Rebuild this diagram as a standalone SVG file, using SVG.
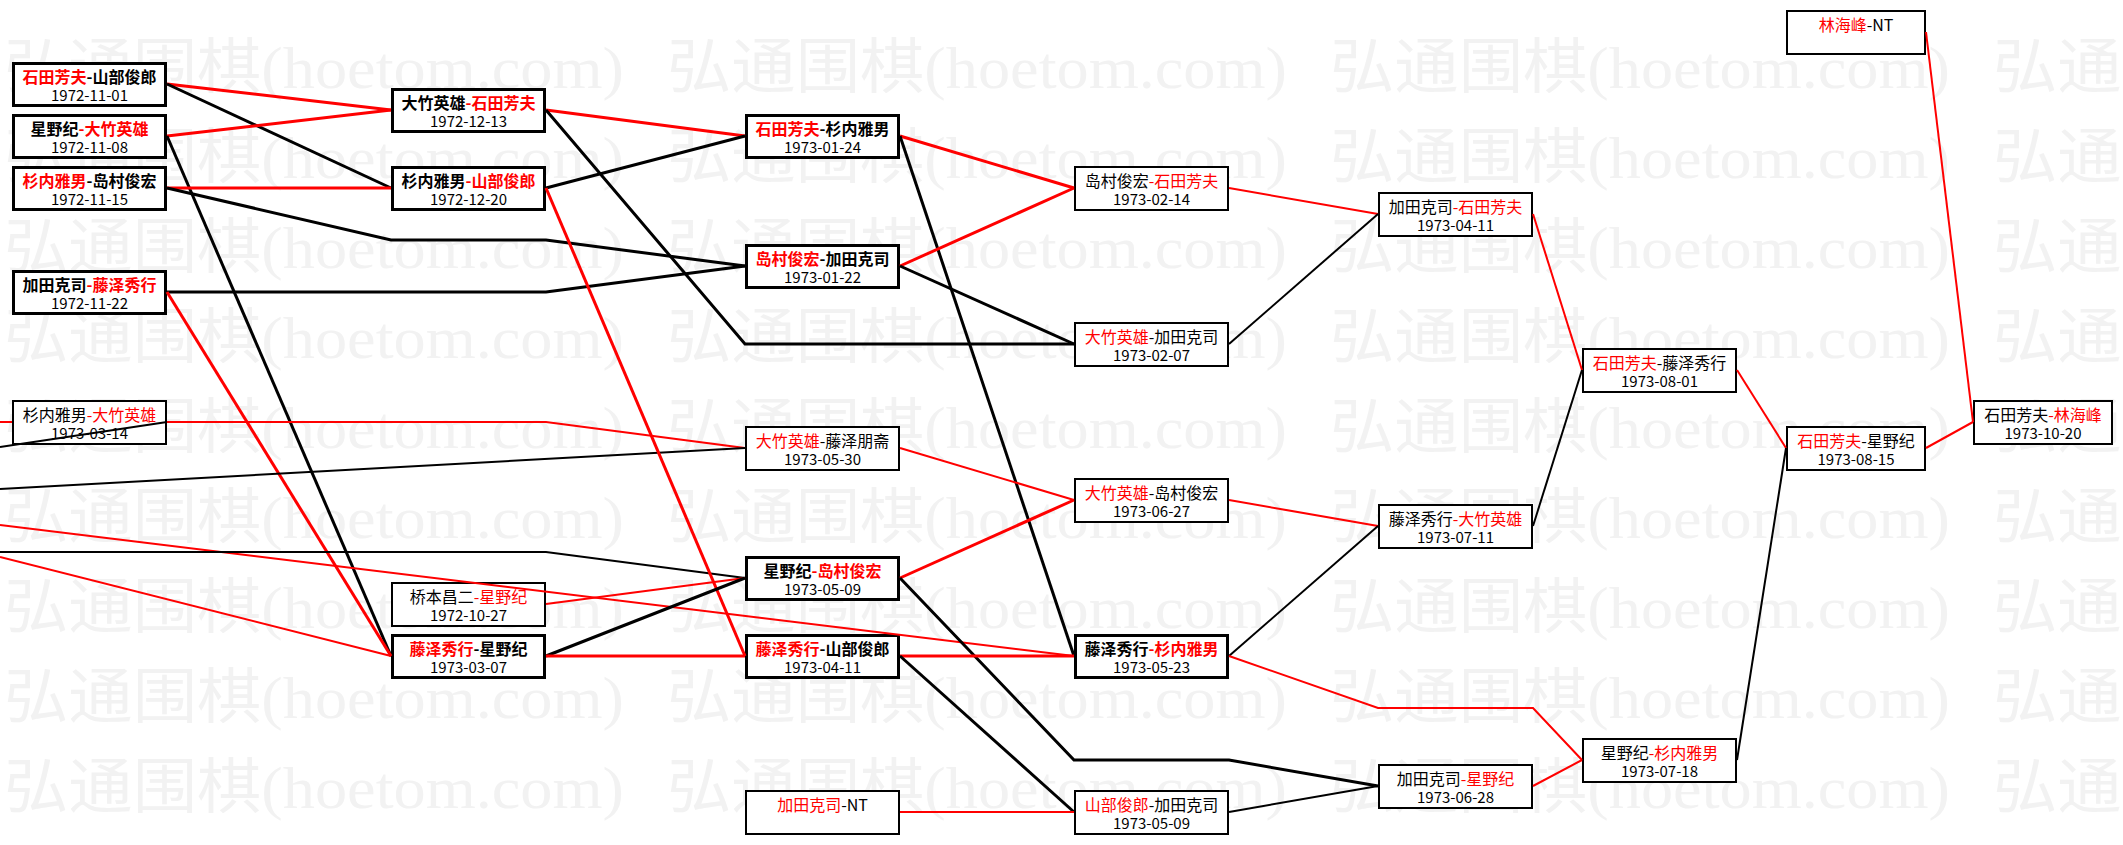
<svg xmlns="http://www.w3.org/2000/svg" width="2123" height="845" viewBox="0 0 2123 845">
<style>
.bg{fill:#ffffff}
.wm text{font-family:"Liberation Serif","Noto Sans CJK SC",serif;font-size:60px;fill:#f2f2f2}
.box{fill:#ffffff;stroke:#000000;stroke-width:2}
.b .box{stroke-width:3}
.nm{font-family:"Noto Sans CJK SC","Noto Sans CJK JP",sans-serif;font-size:16px;text-anchor:middle;fill:#000000}
.b .nm{font-weight:bold}
.dt{font-family:"Noto Sans CJK SC",sans-serif;font-size:15px;text-anchor:middle;fill:#000000}
.r{fill:#ff0000}
#links polyline{fill:none;stroke-width:2;stroke-linejoin:miter}
#links .k{stroke:#000000}
#links .rd{stroke:#ff0000}
#links .w3{stroke-width:3}
</style>
<rect class="bg" x="0" y="0" width="2123" height="845"/>
<g id="watermark" class="wm">
<text x="4" y="88" textLength="620" lengthAdjust="spacingAndGlyphs">弘通围棋(hoetom.com)</text><text x="667" y="88" textLength="620" lengthAdjust="spacingAndGlyphs">弘通围棋(hoetom.com)</text><text x="1330" y="88" textLength="620" lengthAdjust="spacingAndGlyphs">弘通围棋(hoetom.com)</text><text x="1993" y="88" textLength="620" lengthAdjust="spacingAndGlyphs">弘通围棋(hoetom.com)</text>
<text x="4" y="178" textLength="620" lengthAdjust="spacingAndGlyphs">弘通围棋(hoetom.com)</text><text x="667" y="178" textLength="620" lengthAdjust="spacingAndGlyphs">弘通围棋(hoetom.com)</text><text x="1330" y="178" textLength="620" lengthAdjust="spacingAndGlyphs">弘通围棋(hoetom.com)</text><text x="1993" y="178" textLength="620" lengthAdjust="spacingAndGlyphs">弘通围棋(hoetom.com)</text>
<text x="4" y="268" textLength="620" lengthAdjust="spacingAndGlyphs">弘通围棋(hoetom.com)</text><text x="667" y="268" textLength="620" lengthAdjust="spacingAndGlyphs">弘通围棋(hoetom.com)</text><text x="1330" y="268" textLength="620" lengthAdjust="spacingAndGlyphs">弘通围棋(hoetom.com)</text><text x="1993" y="268" textLength="620" lengthAdjust="spacingAndGlyphs">弘通围棋(hoetom.com)</text>
<text x="4" y="358" textLength="620" lengthAdjust="spacingAndGlyphs">弘通围棋(hoetom.com)</text><text x="667" y="358" textLength="620" lengthAdjust="spacingAndGlyphs">弘通围棋(hoetom.com)</text><text x="1330" y="358" textLength="620" lengthAdjust="spacingAndGlyphs">弘通围棋(hoetom.com)</text><text x="1993" y="358" textLength="620" lengthAdjust="spacingAndGlyphs">弘通围棋(hoetom.com)</text>
<text x="4" y="448" textLength="620" lengthAdjust="spacingAndGlyphs">弘通围棋(hoetom.com)</text><text x="667" y="448" textLength="620" lengthAdjust="spacingAndGlyphs">弘通围棋(hoetom.com)</text><text x="1330" y="448" textLength="620" lengthAdjust="spacingAndGlyphs">弘通围棋(hoetom.com)</text><text x="1993" y="448" textLength="620" lengthAdjust="spacingAndGlyphs">弘通围棋(hoetom.com)</text>
<text x="4" y="538" textLength="620" lengthAdjust="spacingAndGlyphs">弘通围棋(hoetom.com)</text><text x="667" y="538" textLength="620" lengthAdjust="spacingAndGlyphs">弘通围棋(hoetom.com)</text><text x="1330" y="538" textLength="620" lengthAdjust="spacingAndGlyphs">弘通围棋(hoetom.com)</text><text x="1993" y="538" textLength="620" lengthAdjust="spacingAndGlyphs">弘通围棋(hoetom.com)</text>
<text x="4" y="628" textLength="620" lengthAdjust="spacingAndGlyphs">弘通围棋(hoetom.com)</text><text x="667" y="628" textLength="620" lengthAdjust="spacingAndGlyphs">弘通围棋(hoetom.com)</text><text x="1330" y="628" textLength="620" lengthAdjust="spacingAndGlyphs">弘通围棋(hoetom.com)</text><text x="1993" y="628" textLength="620" lengthAdjust="spacingAndGlyphs">弘通围棋(hoetom.com)</text>
<text x="4" y="718" textLength="620" lengthAdjust="spacingAndGlyphs">弘通围棋(hoetom.com)</text><text x="667" y="718" textLength="620" lengthAdjust="spacingAndGlyphs">弘通围棋(hoetom.com)</text><text x="1330" y="718" textLength="620" lengthAdjust="spacingAndGlyphs">弘通围棋(hoetom.com)</text><text x="1993" y="718" textLength="620" lengthAdjust="spacingAndGlyphs">弘通围棋(hoetom.com)</text>
<text x="4" y="808" textLength="620" lengthAdjust="spacingAndGlyphs">弘通围棋(hoetom.com)</text><text x="667" y="808" textLength="620" lengthAdjust="spacingAndGlyphs">弘通围棋(hoetom.com)</text><text x="1330" y="808" textLength="620" lengthAdjust="spacingAndGlyphs">弘通围棋(hoetom.com)</text><text x="1993" y="808" textLength="620" lengthAdjust="spacingAndGlyphs">弘通围棋(hoetom.com)</text>
</g>
<g id="nodes">
<g id="n1" class="b" transform="translate(12,62)"><rect class="box" x="1.5" y="1.5" width="152" height="42"/><text class="nm" x="77.5" y="21"><tspan class="r">石田芳夫</tspan>-山部俊郎</text><text class="dt" x="77.5" y="39">1972-11-01</text></g>
<g id="n2" class="b" transform="translate(12,114)"><rect class="box" x="1.5" y="1.5" width="152" height="42"/><text class="nm" x="77.5" y="21">星野纪<tspan class="r">-大竹英雄</tspan></text><text class="dt" x="77.5" y="39">1972-11-08</text></g>
<g id="n3" class="b" transform="translate(12,166)"><rect class="box" x="1.5" y="1.5" width="152" height="42"/><text class="nm" x="77.5" y="21"><tspan class="r">杉内雅男</tspan>-岛村俊宏</text><text class="dt" x="77.5" y="39">1972-11-15</text></g>
<g id="n4" class="b" transform="translate(12,270)"><rect class="box" x="1.5" y="1.5" width="152" height="42"/><text class="nm" x="77.5" y="21">加田克司<tspan class="r">-藤泽秀行</tspan></text><text class="dt" x="77.5" y="39">1972-11-22</text></g>
<g id="n5" transform="translate(12,400)"><rect class="box" x="1" y="1" width="153" height="43"/><text class="nm" x="77.5" y="21">杉内雅男<tspan class="r">-大竹英雄</tspan></text><text class="dt" x="77.5" y="39">1973-03-14</text></g>
<g id="n6" class="b" transform="translate(391,88)"><rect class="box" x="1.5" y="1.5" width="152" height="42"/><text class="nm" x="77.5" y="21">大竹英雄<tspan class="r">-石田芳夫</tspan></text><text class="dt" x="77.5" y="39">1972-12-13</text></g>
<g id="n7" class="b" transform="translate(391,166)"><rect class="box" x="1.5" y="1.5" width="152" height="42"/><text class="nm" x="77.5" y="21">杉内雅男<tspan class="r">-山部俊郎</tspan></text><text class="dt" x="77.5" y="39">1972-12-20</text></g>
<g id="n8" transform="translate(391,582)"><rect class="box" x="1" y="1" width="153" height="43"/><text class="nm" x="77.5" y="21">桥本昌二<tspan class="r">-星野纪</tspan></text><text class="dt" x="77.5" y="39">1972-10-27</text></g>
<g id="n9" class="b" transform="translate(391,634)"><rect class="box" x="1.5" y="1.5" width="152" height="42"/><text class="nm" x="77.5" y="21"><tspan class="r">藤泽秀行</tspan>-星野纪</text><text class="dt" x="77.5" y="39">1973-03-07</text></g>
<g id="n10" class="b" transform="translate(745,114)"><rect class="box" x="1.5" y="1.5" width="152" height="42"/><text class="nm" x="77.5" y="21"><tspan class="r">石田芳夫</tspan>-杉内雅男</text><text class="dt" x="77.5" y="39">1973-01-24</text></g>
<g id="n11" class="b" transform="translate(745,244)"><rect class="box" x="1.5" y="1.5" width="152" height="42"/><text class="nm" x="77.5" y="21"><tspan class="r">岛村俊宏</tspan>-加田克司</text><text class="dt" x="77.5" y="39">1973-01-22</text></g>
<g id="n12" transform="translate(745,426)"><rect class="box" x="1" y="1" width="153" height="43"/><text class="nm" x="77.5" y="21"><tspan class="r">大竹英雄</tspan>-藤泽朋斋</text><text class="dt" x="77.5" y="39">1973-05-30</text></g>
<g id="n13" class="b" transform="translate(745,556)"><rect class="box" x="1.5" y="1.5" width="152" height="42"/><text class="nm" x="77.5" y="21">星野纪<tspan class="r">-岛村俊宏</tspan></text><text class="dt" x="77.5" y="39">1973-05-09</text></g>
<g id="n14" class="b" transform="translate(745,634)"><rect class="box" x="1.5" y="1.5" width="152" height="42"/><text class="nm" x="77.5" y="21"><tspan class="r">藤泽秀行</tspan>-山部俊郎</text><text class="dt" x="77.5" y="39">1973-04-11</text></g>
<g id="n15" transform="translate(745,790)"><rect class="box" x="1" y="1" width="153" height="43"/><text class="nm" x="77.5" y="21"><tspan class="r">加田克司</tspan>-NT</text></g>
<g id="n16" transform="translate(1074,166)"><rect class="box" x="1" y="1" width="153" height="43"/><text class="nm" x="77.5" y="21">岛村俊宏<tspan class="r">-石田芳夫</tspan></text><text class="dt" x="77.5" y="39">1973-02-14</text></g>
<g id="n17" transform="translate(1074,322)"><rect class="box" x="1" y="1" width="153" height="43"/><text class="nm" x="77.5" y="21"><tspan class="r">大竹英雄</tspan>-加田克司</text><text class="dt" x="77.5" y="39">1973-02-07</text></g>
<g id="n18" transform="translate(1074,478)"><rect class="box" x="1" y="1" width="153" height="43"/><text class="nm" x="77.5" y="21"><tspan class="r">大竹英雄</tspan>-岛村俊宏</text><text class="dt" x="77.5" y="39">1973-06-27</text></g>
<g id="n19" class="b" transform="translate(1074,634)"><rect class="box" x="1.5" y="1.5" width="152" height="42"/><text class="nm" x="77.5" y="21">藤泽秀行<tspan class="r">-杉内雅男</tspan></text><text class="dt" x="77.5" y="39">1973-05-23</text></g>
<g id="n20" transform="translate(1074,790)"><rect class="box" x="1" y="1" width="153" height="43"/><text class="nm" x="77.5" y="21"><tspan class="r">山部俊郎</tspan>-加田克司</text><text class="dt" x="77.5" y="39">1973-05-09</text></g>
<g id="n21" transform="translate(1378,192)"><rect class="box" x="1" y="1" width="153" height="43"/><text class="nm" x="77.5" y="21">加田克司<tspan class="r">-石田芳夫</tspan></text><text class="dt" x="77.5" y="39">1973-04-11</text></g>
<g id="n22" transform="translate(1378,504)"><rect class="box" x="1" y="1" width="153" height="43"/><text class="nm" x="77.5" y="21">藤泽秀行<tspan class="r">-大竹英雄</tspan></text><text class="dt" x="77.5" y="39">1973-07-11</text></g>
<g id="n23" transform="translate(1378,764)"><rect class="box" x="1" y="1" width="153" height="43"/><text class="nm" x="77.5" y="21">加田克司<tspan class="r">-星野纪</tspan></text><text class="dt" x="77.5" y="39">1973-06-28</text></g>
<g id="n24" transform="translate(1582,348)"><rect class="box" x="1" y="1" width="153" height="43"/><text class="nm" x="77.5" y="21"><tspan class="r">石田芳夫</tspan>-藤泽秀行</text><text class="dt" x="77.5" y="39">1973-08-01</text></g>
<g id="n25" transform="translate(1582,738)"><rect class="box" x="1" y="1" width="153" height="43"/><text class="nm" x="77.5" y="21">星野纪<tspan class="r">-杉内雅男</tspan></text><text class="dt" x="77.5" y="39">1973-07-18</text></g>
<g id="n26" transform="translate(1786,10)"><rect class="box" x="1" y="1" width="138" height="43"/><text class="nm" x="70" y="21"><tspan class="r">林海峰</tspan>-NT</text></g>
<g id="n27" transform="translate(1786,426)"><rect class="box" x="1" y="1" width="138" height="43"/><text class="nm" x="70" y="21"><tspan class="r">石田芳夫</tspan>-星野纪</text><text class="dt" x="70" y="39">1973-08-15</text></g>
<g id="n28" transform="translate(1973,400)"><rect class="box" x="1" y="1" width="138" height="43"/><text class="nm" x="70" y="21">石田芳夫<tspan class="r">-林海峰</tspan></text><text class="dt" x="70" y="39">1973-10-20</text></g>
</g>
<g id="links">
<polyline class="rd w3" points="167,84 391,110"/>
<polyline class="k w3" points="167,84 391,188"/>
<polyline class="rd w3" points="167,136 391,110"/>
<polyline class="k w3" points="167,136 391,656"/>
<polyline class="rd w3" points="167,188 391,188"/>
<polyline class="k w3" points="167,188 391,240 546,240 745,266"/>
<polyline class="k w3" points="167,292 546,292 745,266"/>
<polyline class="rd w3" points="167,292 391,656"/>
<polyline class="rd" points="167,422 546,422 745,448"/>
<polyline class="rd" points="0,422 12,422"/>
<polyline class="k" points="0,447 167,422"/>
<polyline class="k" points="0,489 745,448"/>
<polyline class="rd" points="0,525 1074,656"/>
<polyline class="k" points="0,552 546,552 745,578"/>
<polyline class="rd" points="0,557 391,656"/>
<polyline class="rd w3" points="546,110 745,136"/>
<polyline class="k w3" points="546,110 745,344 1074,344"/>
<polyline class="k w3" points="546,188 745,136"/>
<polyline class="rd w3" points="546,188 745,656"/>
<polyline class="rd" points="546,604 745,578"/>
<polyline class="k w3" points="546,656 745,578"/>
<polyline class="rd w3" points="546,656 745,656"/>
<polyline class="rd w3" points="900,136 1074,188"/>
<polyline class="k w3" points="900,136 1074,656"/>
<polyline class="rd w3" points="900,266 1074,188"/>
<polyline class="k w3" points="900,266 1074,344"/>
<polyline class="rd" points="900,448 1074,500"/>
<polyline class="rd w3" points="900,578 1074,500"/>
<polyline class="k w3" points="900,578 1074,760 1229,760 1378,786"/>
<polyline class="rd w3" points="900,656 1074,656"/>
<polyline class="k w3" points="900,656 1074,812"/>
<polyline class="rd" points="900,812 1074,812"/>
<polyline class="rd" points="1229,188 1378,214"/>
<polyline class="k" points="1229,344 1378,214"/>
<polyline class="rd" points="1229,500 1378,526"/>
<polyline class="k" points="1229,656 1378,526"/>
<polyline class="rd" points="1229,656 1378,708 1533,708 1582,760"/>
<polyline class="k" points="1229,812 1378,786"/>
<polyline class="rd" points="1533,214 1582,370"/>
<polyline class="k" points="1533,526 1582,370"/>
<polyline class="rd" points="1533,786 1582,760"/>
<polyline class="rd" points="1737,370 1786,448"/>
<polyline class="k" points="1737,760 1786,448"/>
<polyline class="rd" points="1926,32 1973,422"/>
<polyline class="rd" points="1926,448 1973,422"/>
</g>
</svg>
